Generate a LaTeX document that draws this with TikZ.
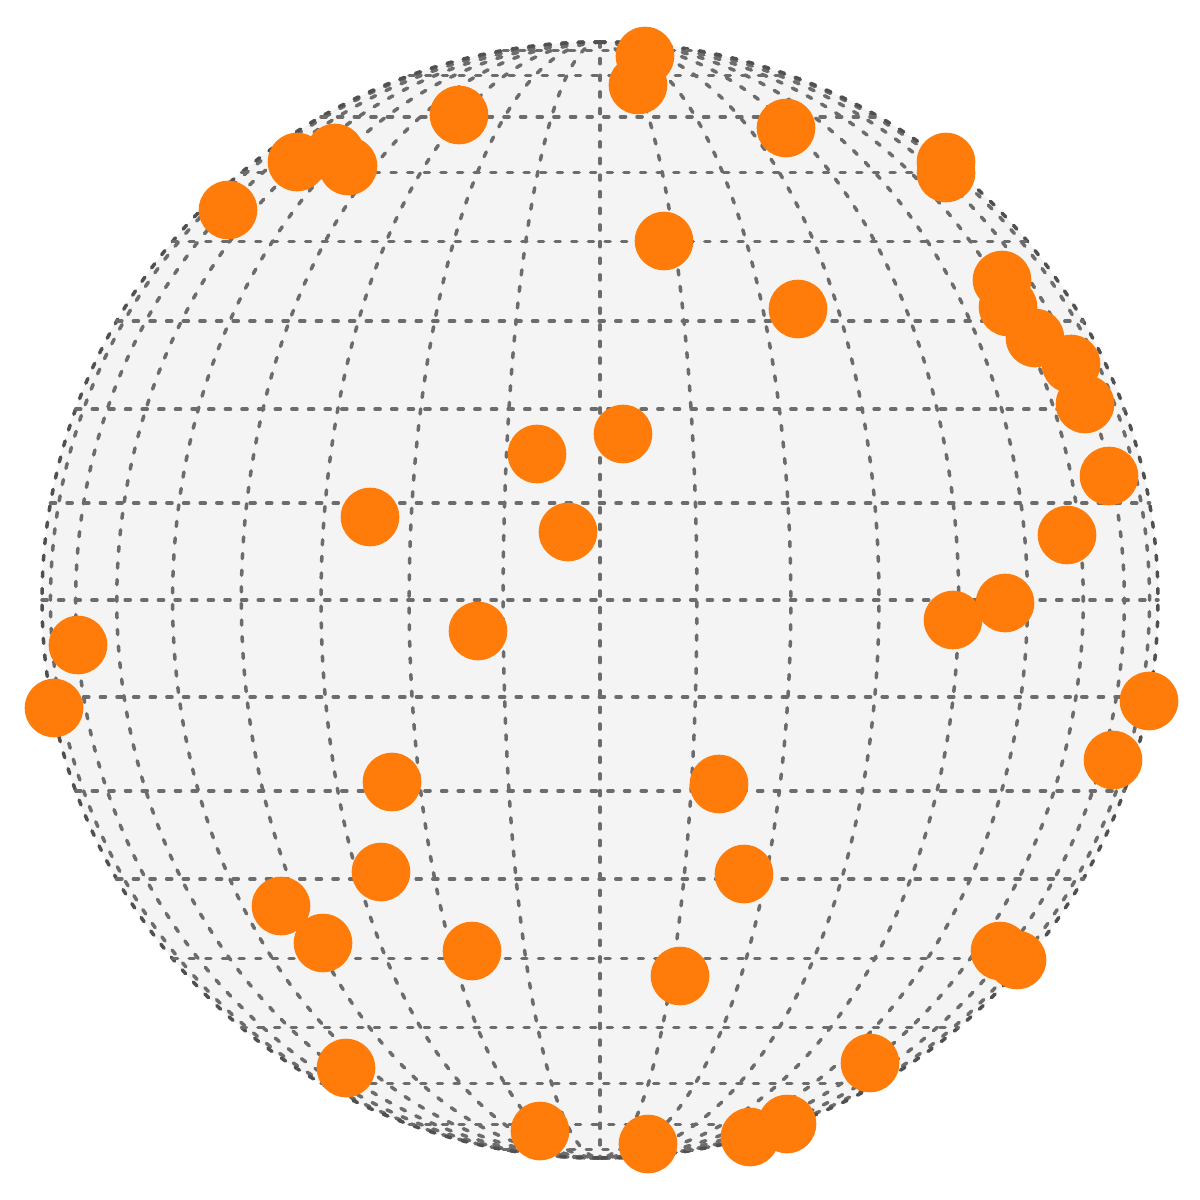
\documentclass[tikz,border=0pt]{standalone}
\usepackage{tikz}
\definecolor{globefill}{HTML}{F4F4F4}
\definecolor{dotorange}{HTML}{FF7C0A}
\definecolor{gridgray}{HTML}{6C6C6C}
\definecolor{rimgray}{HTML}{505050}

\begin{document}
\begin{tikzpicture}[x=0.01cm,y=-0.01cm,
 gridline/.style={gridgray,line width=1pt,line cap=round,dash pattern=on 1.45pt off 3.28pt},
 dot/.style={fill=dotorange}]
\useasboundingbox (0,0) rectangle (1200,1200);
\fill[globefill] (600,600) circle[radius=558];
% meridians
\foreach \lon in {-80,-70,...,80}
 \draw[gridline] plot[domain=-90:90,samples=91,smooth] ({600+558*cos(\x)*sin(\lon)},{600+558*sin(\x)});
\foreach \lon in {-90,90}
 \draw[gridline,rimgray] plot[domain=-90:90,samples=91,smooth] ({600+558*cos(\x)*sin(\lon)},{600+558*sin(\x)});
% parallels
\foreach \lat in {-80,-70,...,80}
 \draw[gridline] ({600-558*cos(\lat)},{600+558*sin(\lat)}) -- ({600+558*cos(\lat)},{600+558*sin(\lat)});
% points
\foreach \px/\py in {645/56,638/85,459/115,786/128,335/153,297/162,348/166,946/162,946/173,
 228/210,664/241,1002/280,1008/307,798/309,1035/338,1071/364,1085/404,623/434,537/454,
 1109/476,370/517,568/532,1067/535,1005/603,953/620,478/631,78/645,54/708,1149/701,1113/760,
 392/782,719/784,381/872,744/874,281/906,323/943,472/951,1000/951,1017/960,680/976,
 870/1063,346/1068,787/1124,750/1137,540/1131,648/1144}
 \fill[dot] (\px,\py) circle[radius=29.3];
\end{tikzpicture}
\end{document}
